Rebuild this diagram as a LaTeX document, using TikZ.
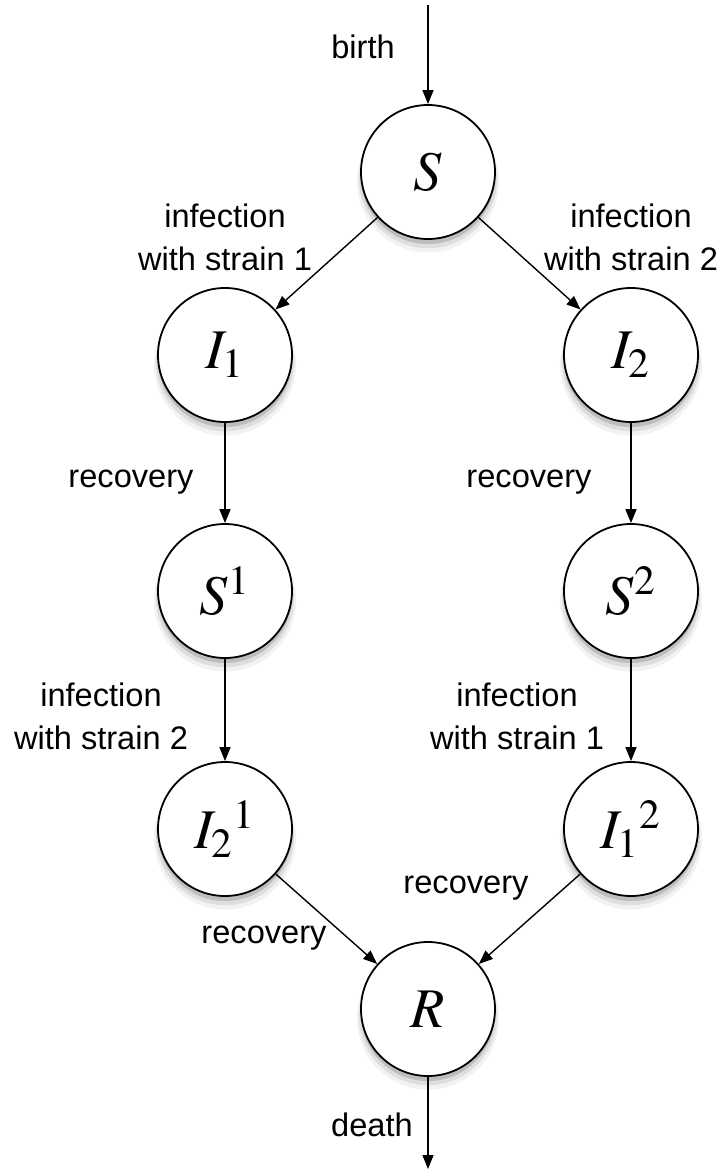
\documentclass[tikz,border=0pt]{standalone}
\usepackage{mathptmx}
\usepackage[no-math]{fontspec}
\newfontfamily\lblfont{Liberation Sans}
\usetikzlibrary{positioning,arrows.meta,shadows}

\tikzset{
  state/.style={draw, circle, fill=white, line width=0.9pt,
    minimum size=67pt, inner sep=0pt,
    font=\fontsize{28}{30}\selectfont,
    drop shadow={shadow xshift=0pt, shadow yshift=-4.5pt, shadow scale=1.06, opacity=0.10},
    drop shadow={shadow xshift=0pt, shadow yshift=-3.5pt, shadow scale=1.03, opacity=0.18},
    drop shadow={shadow xshift=0pt, shadow yshift=-2.5pt, opacity=0.35}},
  lbl/.style={font=\lblfont\fontsize{16.3}{21.5}\selectfont, align=center, inner sep=0pt},
  flow/.style={-{Triangle[length=7pt,width=5.5pt]}, line width=0.7pt}
}

\begin{document}
\begin{tikzpicture}[on grid]
  \useasboundingbox (-214pt,86pt) rectangle (147.5pt,-500.5pt);

  % --- Susceptible node ---
  \node[state] (S) {$S$};

  % --- Two branches, placed relative to S ---
  \node[state] (I1) [below left=91.5pt and 101.5pt of S] {$I_1$};
  \node[state] (I2) [below right=91.5pt and 101.5pt of S] {$I_2$};
  \node[state] (S1) [below=118pt of I1] {$S^1$};
  \node[state] (S2) [below=118pt of I2] {$S^2$};
  \node[state] (I21) [below=119pt of S1] {${I_2}^1$};
  \node[state] (I12) [below=119pt of S2] {${I_1}^2$};
  \node[state] (R) [below right=90pt and 101.5pt of I21] {$R$};

  % --- Free ends of birth and death ---
  \coordinate[above=83.5pt of S] (birthpt);
  \coordinate[below=80pt of R] (deathpt);

  % --- Flows ---
  \draw[flow] (birthpt) -- (S);
  \draw[flow] (S) -- (I1);
  \draw[flow] (S) -- (I2);
  \draw[flow] (I1) -- (S1);
  \draw[flow] (I2) -- (S2);
  \draw[flow] (S1) -- (I21);
  \draw[flow] (S2) -- (I12);
  \draw[flow] (I21) -- (R);
  \draw[flow] (I12) -- (R);
  \draw[flow] (R) -- (deathpt);

  % --- Labels ---
  \node[lbl] (birthlbl) [above left=62.5pt and 32.5pt of S] {birth};
  \node[lbl] (inf1lbl) [above=58.75pt of I1] {infection\\with strain 1};
  \node[lbl] (inf2lbl) [above=58.75pt of I2] {infection\\with strain 2};
  \node[lbl] (rec1lbl) [below left=63.5pt and 47pt of I1] {recovery};
  \node[lbl] (rec2lbl) [below left=63.5pt and 51pt of I2] {recovery};
  \node[lbl] (inf21lbl) [below left=62.5pt and 62pt of S1] {infection\\with strain 2};
  \node[lbl] (inf12lbl) [below left=62.5pt and 57pt of S2] {infection\\with strain 1};
  \node[lbl] (rec21lbl) [below right=54.5pt and 19.5pt of I21] {recovery};
  \node[lbl] (rec12lbl) [below left=29.5pt and 82.5pt of I12] {recovery};
  \node[lbl] (deathlbl) [below left=58pt and 28pt of R] {death};
\end{tikzpicture}
\end{document}
